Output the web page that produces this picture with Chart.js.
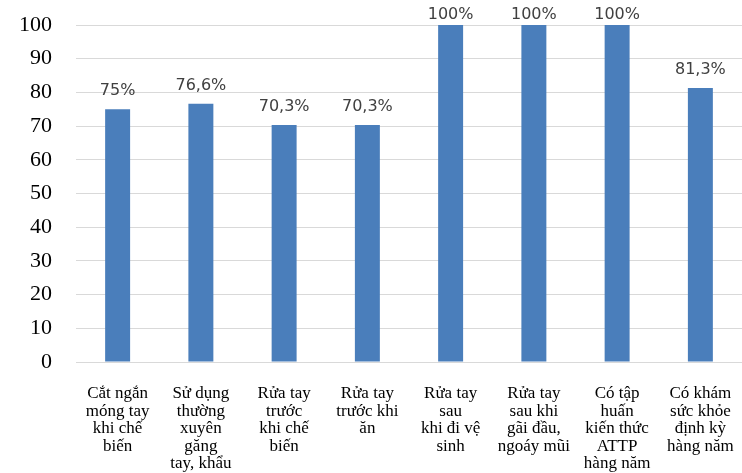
<!DOCTYPE html>
<html>
<head>
<meta charset="utf-8">
<script src="https://cdn.jsdelivr.net/npm/chart.js@4"></script>
<style>
  html, body { margin: 0; padding: 0; background: #fff; }
  #wrap { width: 742px; height: 473px; }
</style>
</head>
<body>
<div id="wrap"><canvas id="hygieneChart"></canvas></div>
<script>
// Categories (multi-line labels as in the original)
const categories = [
  ['Cắt ngắn', 'móng tay', 'khi chế', 'biến'],
  ['Sử dụng', 'thường', 'xuyên', 'găng', 'tay, khẩu'],
  ['Rửa tay', 'trước', 'khi chế', 'biến'],
  ['Rửa tay', 'trước khi', 'ăn'],
  ['Rửa tay', 'sau', 'khi đi vệ', 'sinh'],
  ['Rửa tay', 'sau khi', 'gãi đầu,', 'ngoáy mũi'],
  ['Có tập', 'huấn', 'kiến thức', 'ATTP', 'hàng năm'],
  ['Có khám', 'sức khỏe', 'định kỳ', 'hàng năm']
];
const values = [75, 76.6, 70.3, 70.3, 100, 100, 100, 81.3];
const valueLabels = ['75%', '76,6%', '70,3%', '70,3%', '100%', '100%', '100%', '81,3%'];
const yTicks = [0, 10, 20, 30, 40, 50, 60, 70, 80, 90, 100];

// Simple inline plugin for the value labels above bars
const barLabels = {
  id: 'barLabels',
  afterDatasetsDraw(chart) {
    const ctx = chart.ctx;
    const meta = chart.getDatasetMeta(0);
    ctx.save();
    ctx.font = "16px 'DejaVu Sans'";
    ctx.fillStyle = '#404040';
    ctx.textAlign = 'center';
    ctx.textBaseline = 'middle';
    meta.data.forEach((bar, i) => {
      // keep labels inside the canvas like the original (tall bars get squeezed)
      ctx.fillText(valueLabels[i], bar.x, Math.max(bar.y - 18, 15));
    });
    ctx.restore();
  }
};

const ctx = document.getElementById('hygieneChart');
new Chart(ctx, {
  type: 'bar',
  data: {
    labels: categories,
    datasets: [{
      data: values,
      backgroundColor: '#4a7ebb',
      categoryPercentage: 1,
      barPercentage: 0.3
    }]
  },
  options: {
    responsive: true,
    maintainAspectRatio: false,
    animation: false,
    layout: { padding: { top: 25, right: 0, bottom: 0, left: 0 } },
    plugins: {
      legend: { display: false },
      tooltip: { enabled: false }
    },
    scales: {
      x: {
        grid: { display: false },
        border: { display: false },
        ticks: {
          color: '#000',
          font: { family: "'Liberation Serif'", size: 17, lineHeight: 1.03 },
          padding: 15,
          maxRotation: 0,
          autoSkip: false
        },
        afterFit(scale) {
          scale.height = 111;
          scale.paddingLeft = 0;
          scale.paddingRight = 0;
        }
      },
      y: {
        min: 0,
        max: 100,
        afterBuildTicks(scale) { scale.ticks = yTicks.map(v => ({ value: v })); },
        grid: { color: '#d9d9d9', drawTicks: false },
        border: { display: false },
        ticks: {
          color: '#000',
          font: { family: "'Liberation Serif'", size: 22 },
          padding: 24
        },
        afterFit(scale) {
          scale.width = 76;
          scale.paddingTop = 0;
          scale.paddingBottom = 0;
        }
      }
    }
  },
  plugins: [barLabels]
});
</script>
</body>
</html>
